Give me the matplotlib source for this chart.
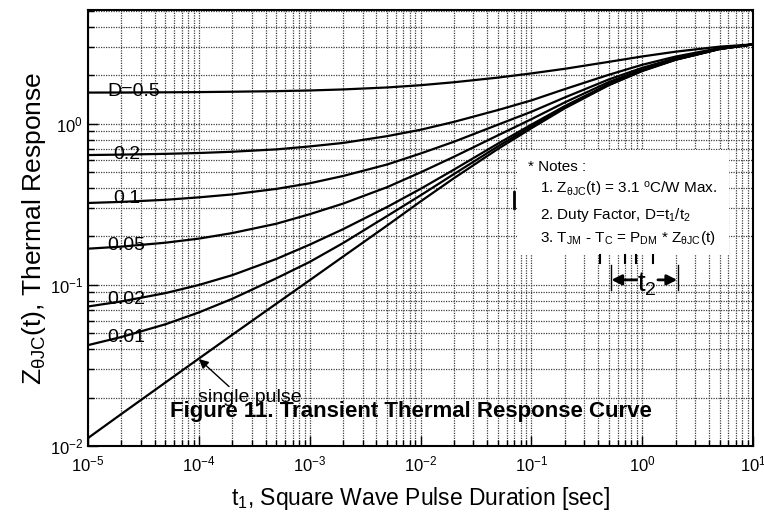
import matplotlib
matplotlib.use('Agg')
import matplotlib.pyplot as plt
from matplotlib.ticker import LogLocator, LogFormatterMathtext, NullFormatter

plt.rcParams['font.family'] = ['Liberation Sans', 'DejaVu Sans']
plt.rcParams['mathtext.fontset'] = 'custom'
plt.rcParams['mathtext.rm'] = 'Liberation Sans'
plt.rcParams['mathtext.it'] = 'Liberation Sans:italic'
plt.rcParams['mathtext.bf'] = 'Liberation Sans:bold'

# pulse duration [sec]
t1 = [1e-5, 2e-5, 5e-5, 1e-4, 2e-4, 5e-4, 1e-3, 2e-3, 5e-3, 1e-2,
      2e-2, 5e-2, 1e-1, 2e-1, 5e-1, 1., 2., 5., 10.]

# Z_thJC(t)
z_d05 = [1.566, 1.568, 1.572, 1.577, 1.585, 1.598, 1.614, 1.638, 1.685, 1.74,
         1.815, 1.94, 2.06, 2.2, 2.43, 2.625, 2.81, 3.02, 3.12]
z_d02 = [0.641, 0.645, 0.652, 0.66, 0.672, 0.695, 0.725, 0.762, 0.84, 0.92,
         1.03, 1.22, 1.40, 1.645, 2.02, 2.33, 2.62, 2.96, 3.12]
z_d01 = [0.323, 0.328, 0.338, 0.35, 0.365, 0.395, 0.428, 0.475, 0.56, 0.655,
         0.775, 0.99, 1.19, 1.46, 1.89, 2.23, 2.56, 2.94, 3.12]
z_d005 = [0.168, 0.173, 0.183, 0.194, 0.21, 0.24, 0.275, 0.32, 0.405, 0.50,
          0.625, 0.85, 1.07, 1.36, 1.82, 2.18, 2.53, 2.93, 3.12]
z_d002 = [0.0735, 0.079, 0.089, 0.1, 0.115, 0.145, 0.178, 0.222, 0.305, 0.395,
          0.52, 0.755, 0.99, 1.29, 1.77, 2.15, 2.51, 2.92, 3.12]
z_d001 = [0.0423, 0.0475, 0.057, 0.0675, 0.082, 0.11, 0.139, 0.182, 0.268, 0.36,
          0.488, 0.726, 0.964, 1.27, 1.75, 2.14, 2.51, 2.92, 3.12]
z_single = [0.0112, 0.0158, 0.0248, 0.0349, 0.049, 0.0765, 0.107, 0.150, 0.234, 0.33,
            0.46, 0.70, 0.94, 1.25, 1.74, 2.13, 2.5, 2.92, 3.12]

curves = [z_d05, z_d02, z_d01, z_d005, z_d002, z_d001, z_single]
curve_labels = ['D=0.5', '0.2', '0.1', '0.05', '0.02', '0.01']
label_x = [1.5e-5, 1.68e-5, 1.68e-5, 1.48e-5, 1.48e-5, 1.48e-5]
label_y = [1.58, 0.642, 0.342, 0.177, 0.0807, 0.0475]

fig = plt.figure(figsize=(7.64, 5.19), dpi=100)
ax = fig.add_axes([0.1152, 0.1407, 0.8704, 0.840])

for z in curves:
    ax.plot(t1, z, color='k', lw=1.6)

ax.set_xscale('log')
ax.set_yscale('log')
ax.set_xlim(1e-5, 10)
ax.set_ylim(1e-2, 5.1)

ax.xaxis.set_major_locator(LogLocator(base=10, numticks=10))
ax.xaxis.set_minor_locator(LogLocator(base=10, subs=range(2, 10), numticks=20))
ax.yaxis.set_major_locator(LogLocator(base=10, numticks=10))
ax.yaxis.set_minor_locator(LogLocator(base=10, subs=range(2, 10), numticks=20))
ax.xaxis.set_major_formatter(LogFormatterMathtext())
ax.yaxis.set_major_formatter(LogFormatterMathtext())
ax.xaxis.set_minor_formatter(NullFormatter())
ax.yaxis.set_minor_formatter(NullFormatter())

ax.grid(which='both', ls=(0, (1, 1)), color='0.25', lw=0.9)
ax.tick_params(which='both', direction='in', top=False, right=False, labelsize=12)
ax.tick_params(axis='x', pad=6)
ax.tick_params(which='major', length=7, width=1)
ax.tick_params(which='minor', length=4, width=1)
for s in ax.spines.values():
    s.set_linewidth(1.5)

ax.set_xlabel(r't$_1$, Square Wave Pulse Duration [sec]', fontsize=16.5, labelpad=8)
ax.set_ylabel(r'Z$_{\mathrm{θJC}}$(t), Thermal Response', fontsize=19, labelpad=1)

for lab, x, y in zip(curve_labels, label_x, label_y):
    ax.text(x, y, lab, fontsize=14, ha='left', va='center')

ax.annotate('single pulse', xy=(1.0e-4, 0.0347), xytext=(9.8e-5, 0.0199),
            fontsize=14, ha='left', va='center',
            arrowprops=dict(arrowstyle='-|>', color='k', lw=1, shrinkA=0, shrinkB=0,
                            relpos=(0.33, 1.0)))

ax.text(0.486, 0.078, 'Figure 11. Transient Thermal Response Curve', transform=ax.transAxes,
        fontsize=16, fontweight='bold', ha='center', va='center')

# notes box
ax.add_patch(plt.Rectangle((0.645, 0.438), 0.319, 0.241, transform=ax.transAxes,
                           facecolor='white', edgecolor='none', zorder=3))
ax.text(0.662, 0.640, '* Notes :', transform=ax.transAxes, fontsize=11, va='center', zorder=4)
notes = [r'1. Z$_{\mathrm{θJC}}$(t) = 3.1 $^{\mathrm{o}}$C/W Max.',
         r'2. Duty Factor, D=t$_1$/t$_2$',
         r'3. T$_{\mathrm{JM}}$ - T$_{\mathrm{C}}$ = P$_{\mathrm{DM}}$ * Z$_{\mathrm{θJC}}$(t)']
for i, note in enumerate(notes):
    ax.text(0.680, [0.589, 0.530, 0.477][i], note, transform=ax.transAxes,
            fontsize=11, va='center', zorder=4)

# t2 sketch under the notes
ax.plot([0.641, 0.641], [0.546, 0.583], transform=ax.transAxes, color='k', lw=2, zorder=4)
for xm in [0.770, 0.808, 0.824, 0.850]:
    ax.plot([xm, xm], [0.42, 0.438], transform=ax.transAxes, color='k', lw=1.5, zorder=4)
ax.plot([0.786, 0.786], [0.358, 0.415], transform=ax.transAxes, color='k', lw=1, zorder=4)
ax.plot([0.887, 0.887], [0.358, 0.415], transform=ax.transAxes, color='k', lw=1, zorder=4)
ax.annotate('', xy=(0.787, 0.381), xytext=(0.825, 0.381), xycoords='axes fraction',
            arrowprops=dict(arrowstyle='-|>,head_width=0.3,head_length=0.6', color='k',
                            lw=2, shrinkA=0, shrinkB=0))
ax.annotate('', xy=(0.886, 0.381), xytext=(0.857, 0.381), xycoords='axes fraction',
            arrowprops=dict(arrowstyle='-|>,head_width=0.3,head_length=0.6', color='k',
                            lw=2, shrinkA=0, shrinkB=0))
ax.text(0.841, 0.372, r't$_2$', transform=ax.transAxes, fontsize=20, ha='center', va='center')

plt.savefig('out.png', dpi=100)
